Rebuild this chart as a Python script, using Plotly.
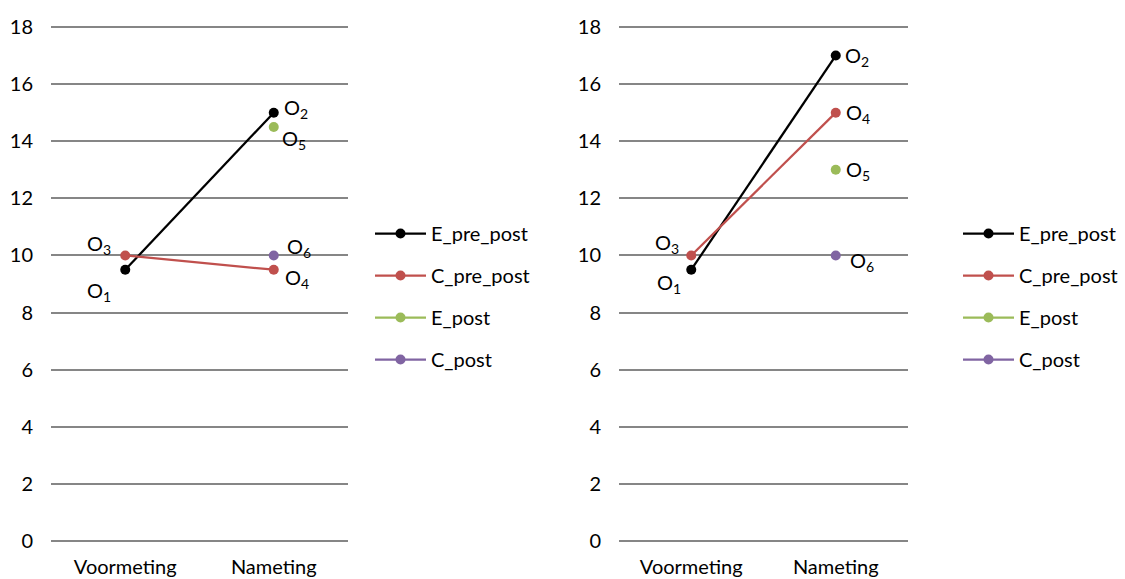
import plotly.graph_objects as go

categories = ["Voormeting", "Nameting"]
series_names = ["E_pre_post", "C_pre_post", "E_post", "C_post"]
colors = ["#000000", "#C0504D", "#9BBB59", "#8064A2"]

left_E_pre_post = [9.5, 15]
left_C_pre_post = [10, 9.5]
left_E_post = [None, 14.5]
left_C_post = [None, 10]

right_E_pre_post = [9.5, 17]
right_C_pre_post = [10, 15]
right_E_post = [None, 13]
right_C_post = [None, 10]

y_ticks = [0, 2, 4, 6, 8, 10, 12, 14, 16, 18]

# labels: (text, category index, value, xshift, yshift)
left_labels = [
    ("O<sub>1</sub>", 0, 9.5, -26, -22),
    ("O<sub>2</sub>", 1, 15, 22, 4),
    ("O<sub>3</sub>", 0, 10, -26, 11),
    ("O<sub>4</sub>", 1, 9.5, 23, -9),
    ("O<sub>5</sub>", 1, 14.5, 20, -13),
    ("O<sub>6</sub>", 1, 10, 25, 8),
]
right_labels = [
    ("O<sub>1</sub>", 0, 9.5, -22, -14),
    ("O<sub>2</sub>", 1, 17, 21, -1),
    ("O<sub>3</sub>", 0, 10, -24, 12),
    ("O<sub>4</sub>", 1, 15, 22, -1),
    ("O<sub>5</sub>", 1, 13, 22, -1),
    ("O<sub>6</sub>", 1, 10, 26, -6),
]

FONT = "Lato, 'Open Sans', sans-serif"
FS = 20
fig = go.Figure()

panels = [
    ("x", "y", "legend", [left_E_pre_post, left_C_pre_post, left_E_post, left_C_post]),
    ("x2", "y2", "legend2", [right_E_pre_post, right_C_pre_post, right_E_post, right_C_post]),
]
for xa, ya, leg, data in panels:
    for i, (name, col, vals) in enumerate(zip(series_names, colors, data)):
        fig.add_trace(go.Scatter(
            x=categories, y=vals, name=name, mode="lines+markers",
            line=dict(color=col, width=2.25), marker=dict(color=col, size=10),
            xaxis=xa, yaxis=ya, legend=leg, legendgroup=leg + name,
            connectgaps=False,
        ))

for labels, xr, yr in [(left_labels, "x", "y"), (right_labels, "x2", "y2")]:
    for text, ci, v, xs, ys in labels:
        fig.add_annotation(x=categories[ci], y=v, xref=xr, yref=yr, text=text,
                           showarrow=False, xshift=xs, yshift=ys,
                           font=dict(family=FONT, size=FS, color="#000000"))

axis_common = dict(showgrid=False, showline=False, zeroline=False, ticks="",
                   range=[-0.5, 1.5], automargin=False, ticklabelstandoff=12,
                   tickfont=dict(family=FONT, size=FS, color="#000000"), fixedrange=True)

Y_TOP = 18.15
PX_PER_UNIT = (541 - 27) / 18
top_px = 27 - (Y_TOP - 18) * PX_PER_UNIT
yaxis_common = dict(range=[0, Y_TOP], tickvals=y_ticks, showgrid=True, gridcolor="#868686",
                    gridwidth=1.5, zeroline=True, zerolinecolor="#868686", zerolinewidth=1.5,
                    showline=False, ticks="", ticklabelstandoff=17, automargin=False,
                    tickfont=dict(family=FONT, size=FS, color="#000000"), fixedrange=True)

legend_common = dict(font=dict(family=FONT, size=FS, color="#000000"), bgcolor="rgba(0,0,0,0)",
                     traceorder="grouped", tracegroupgap=13, itemwidth=51,
                     xanchor="left", yanchor="top")

fig.update_layout(
    width=1125, height=579,
    margin=dict(l=0, r=0, t=0, b=0, autoexpand=False),
    paper_bgcolor="white", plot_bgcolor="white",
    xaxis=dict(domain=[51/1125, 348/1125], **axis_common),
    yaxis=dict(domain=[1-541/579, 1-top_px/579], anchor="x", **yaxis_common),
    xaxis2=dict(domain=[619/1125, 908/1125], anchor="y2", **axis_common),
    yaxis2=dict(domain=[1-541/579, 1-top_px/579], anchor="x2", **yaxis_common),
    legend=dict(x=370/1125, y=1-214/579, **legend_common),
    legend2=dict(x=958/1125, y=1-214/579, **legend_common),
    showlegend=True,
)

fig.write_html("out.html")
